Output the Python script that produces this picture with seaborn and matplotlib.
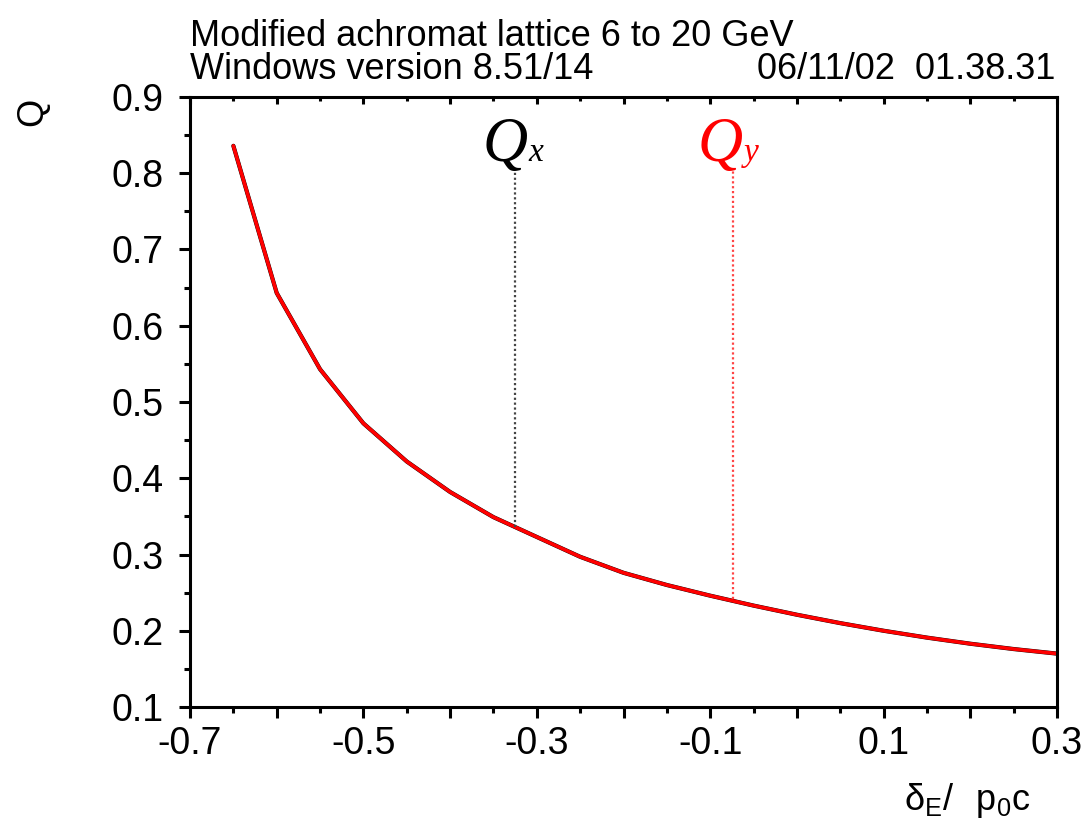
import matplotlib
matplotlib.use("Agg")
import matplotlib.pyplot as plt
import seaborn as sns
import pandas as pd
from matplotlib.ticker import MultipleLocator, FixedLocator, FixedFormatter

# ==========================================
# DATA
# ==========================================

delta = [-0.65, -0.6, -0.55, -0.5, -0.45, -0.4, -0.35, -0.3, -0.25, -0.2,
         -0.15, -0.1, -0.05, 0.0, 0.05, 0.1, 0.15, 0.2, 0.25, 0.3]
qx = [0.836, 0.643, 0.543, 0.472, 0.422, 0.382, 0.349, 0.323, 0.297, 0.276,
      0.260, 0.246, 0.233, 0.221, 0.210, 0.200, 0.191, 0.183, 0.176, 0.170]
qy = [0.836, 0.643, 0.543, 0.472, 0.422, 0.382, 0.349, 0.323, 0.297, 0.276,
      0.260, 0.246, 0.233, 0.221, 0.210, 0.200, 0.191, 0.183, 0.176, 0.170]

marker_x = [-0.325, -0.074]
marker_top = [0.805, 0.805]
marker_bottom = [0.336, 0.241]

xtick_vals = [-0.7, -0.6, -0.5, -0.4, -0.3, -0.2, -0.1, 0.0, 0.1, 0.2, 0.3]
xtick_labels = ["-0.7", "", "-0.5", "", "-0.3", "", "-0.1", "", "0.1", "", "0.3"]

title_1 = "Modified achromat lattice 6 to 20 GeV"
title_2 = "Windows version 8.51/14"
stamp = "06/11/02  01.38.31"

df = pd.DataFrame({"delta": delta, "Qx": qx, "Qy": qy})

# ==========================================
# STYLE
# ==========================================

sns.set_style("ticks")
plt.rcParams["font.family"] = ["Liberation Sans", "DejaVu Sans"]
plt.rcParams["mathtext.fontset"] = "custom"
plt.rcParams["mathtext.rm"] = "Liberation Sans"
plt.rcParams["text.color"] = "black"
plt.rcParams["xtick.color"] = "black"
plt.rcParams["ytick.color"] = "black"
plt.rcParams["xtick.labelcolor"] = "black"
plt.rcParams["ytick.labelcolor"] = "black"

fig = plt.figure(figsize=(10.87, 8.22), dpi=100)
ax = fig.add_axes([0.1748, 0.1399, 0.9724 - 0.1748, 0.882 - 0.1399])

# ==========================================
# CURVES
# ==========================================

sns.lineplot(data=df, x="delta", y="Qx", ax=ax, color="black", lw=3.0)
sns.lineplot(data=df, x="delta", y="Qy", ax=ax, color="#ff0000", lw=2.6)

ax.vlines(marker_x[0], marker_bottom[0], marker_top[0], colors="#444444",
          linestyles=(0, (1, 1.2)), lw=1.6)
ax.vlines(marker_x[1], marker_bottom[1], marker_top[1], colors="#ff4444",
          linestyles=(0, (1, 1.2)), lw=1.6)

# Q labels
ax.text(-0.311, 0.816, "Q", family="Liberation Serif", style="italic",
        fontsize=45, ha="right", va="baseline", color="black")
ax.text(-0.310, 0.816, "x", family="Liberation Serif", style="italic",
        fontsize=24, ha="left", va="baseline", color="black")
ax.text(-0.062, 0.816, "Q", family="Liberation Serif", style="italic",
        fontsize=45, ha="right", va="baseline", color="#ff0000")
ax.text(-0.061, 0.816, "y", family="Liberation Serif", style="italic",
        fontsize=24, ha="left", va="baseline", color="#ff0000")

# ==========================================
# AXES
# ==========================================

ax.set_xlim(-0.7, 0.3)
ax.set_ylim(0.1, 0.9)
ax.set_xlabel("")
ax.set_ylabel("")

ax.xaxis.set_major_locator(FixedLocator(xtick_vals))
ax.xaxis.set_major_formatter(FixedFormatter(xtick_labels))
ax.xaxis.set_minor_locator(MultipleLocator(0.05))
ax.yaxis.set_major_locator(MultipleLocator(0.1))
ax.yaxis.set_minor_locator(MultipleLocator(0.05))

for s in ax.spines.values():
    s.set_visible(True)
    s.set_linewidth(2.2)
    s.set_color("black")

ax.tick_params(axis="both", which="major", labelsize=27, width=2.2,
               length=8, direction="out")
ax.tick_params(axis="both", which="minor", width=2.2, length=4,
               direction="out")
ax.tick_params(axis="x", which="major", pad=6)
ax.tick_params(axis="y", which="major", pad=11)
ax.tick_params(axis="x", which="both", top=True)
ax.tick_params(axis="y", which="both", right=False)

# top ticks point inwards
for t in ax.xaxis.get_major_ticks():
    t.tick2line.set_marker(3)
    t.tick2line.set_markersize(5)
for t in ax.xaxis.get_minor_ticks():
    t.tick2line.set_marker(3)
    t.tick2line.set_markersize(3)

# ==========================================
# TEXTS
# ==========================================

fig.text(0.1748, 0.955, title_1, fontsize=26, ha="left", va="center")
fig.text(0.1748, 0.916, title_2, fontsize=26, ha="left", va="center")
fig.text(0.971, 0.916, stamp, fontsize=26, ha="right", va="center")

fig.text(0.030, 0.864, "Q", fontsize=26, rotation=90, ha="center", va="center")
fig.text(0.948, 0.026, r"$\mathregular{\delta_{E}/\ \ p_{0}c}$",
         fontsize=26, ha="right", va="center")

plt.savefig("out.png", dpi=100)
